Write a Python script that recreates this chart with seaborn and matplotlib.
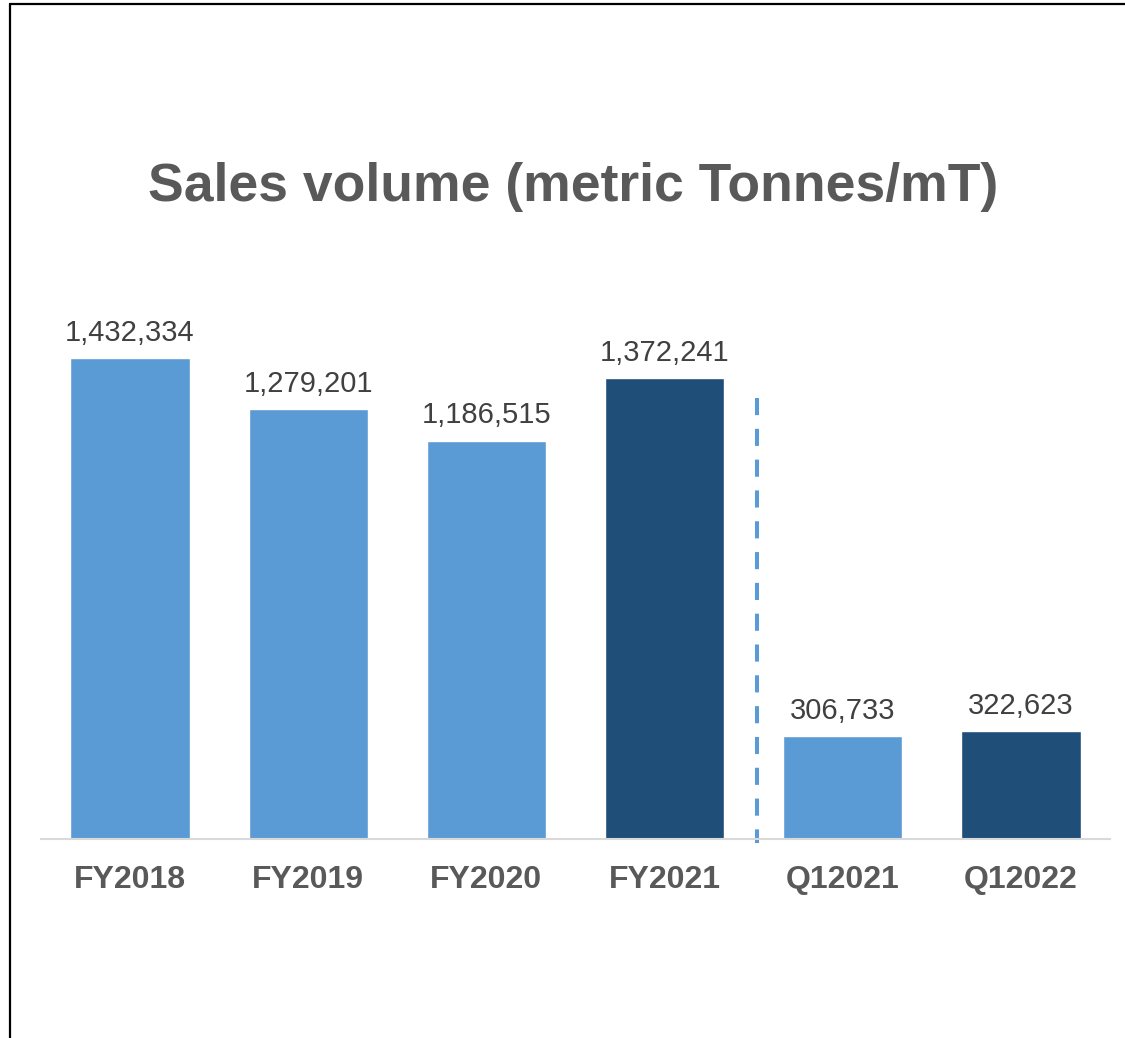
import matplotlib
matplotlib.use("Agg")
import matplotlib.pyplot as plt
import pandas as pd
import seaborn as sns
from matplotlib.lines import Line2D

# Values
periods = ["FY2018", "FY2019", "FY2020", "FY2021", "Q12021", "Q12022"]
volumes = [1432334, 1279201, 1186515, 1372241, 306733, 322623]
bar_colors = ["#5B9BD5", "#5B9BD5", "#5B9BD5", "#1F4E79", "#5B9BD5", "#1F4E79"]

TITLE = "Sales volume (metric Tonnes/mT)"
GREY_TEXT = "#595959"
LABEL_TEXT = "#404040"

sns.set_theme(style="white")
plt.rcParams["font.family"] = ["Liberation Sans", "DejaVu Sans"]

df = pd.DataFrame({"period": periods, "volume": volumes})

fig = plt.figure(figsize=(11.25, 10.38), dpi=100)
ax = fig.add_axes([0.0364, 0.1917, 0.9503, 0.5176])

sns.barplot(
    data=df,
    x="period",
    y="volume",
    hue="period",
    palette=bar_colors,
    legend=False,
    width=0.67,
    saturation=1,
    ax=ax,
)

ax.set_xlim(-0.5, len(periods) - 0.5)
ax.set_ylim(0, 1.6e6)

for container in ax.containers:
    ax.bar_label(
        container,
        labels=[f"{v:,.0f}" for v in container.datavalues],
        padding=8,
        fontsize=21,
        color=LABEL_TEXT,
    )

# dashed separator between full-year and quarterly figures (drawn top-down
# so the dash pattern starts at the top like the original)
ax.plot([3.52, 3.52], [0.821, -0.008], transform=ax.get_xaxis_transform(),
        color="#5B9BD5", lw=2.9, linestyle=(0, (4.25, 3.4)), clip_on=False)

ax.set_xlabel("")
ax.set_ylabel("")
ax.set_yticks([])
ax.tick_params(axis="x", length=0, pad=18.5)
for lbl in ax.get_xticklabels():
    lbl.set_fontsize(23)
    lbl.set_fontweight("bold")
    lbl.set_color(GREY_TEXT)

for side in ("top", "left", "right"):
    ax.spines[side].set_visible(False)
ax.spines["bottom"].set_color("#D9D9D9")
ax.spines["bottom"].set_linewidth(1.5)

fig.text(0.509, 0.8195, TITLE, ha="center", va="center",
         fontsize=38.5, fontweight="bold", color=GREY_TEXT)

# frame lines (left and top) around the slide graphic
fig.add_artist(Line2D([0.0093, 0.0093], [0, 0.9961], color="black", lw=1.6,
                      transform=fig.transFigure))
fig.add_artist(Line2D([0.0093, 1.0], [0.9961, 0.9961], color="black", lw=1.6,
                      transform=fig.transFigure))

fig.savefig("out.png", dpi=100, facecolor="white")
